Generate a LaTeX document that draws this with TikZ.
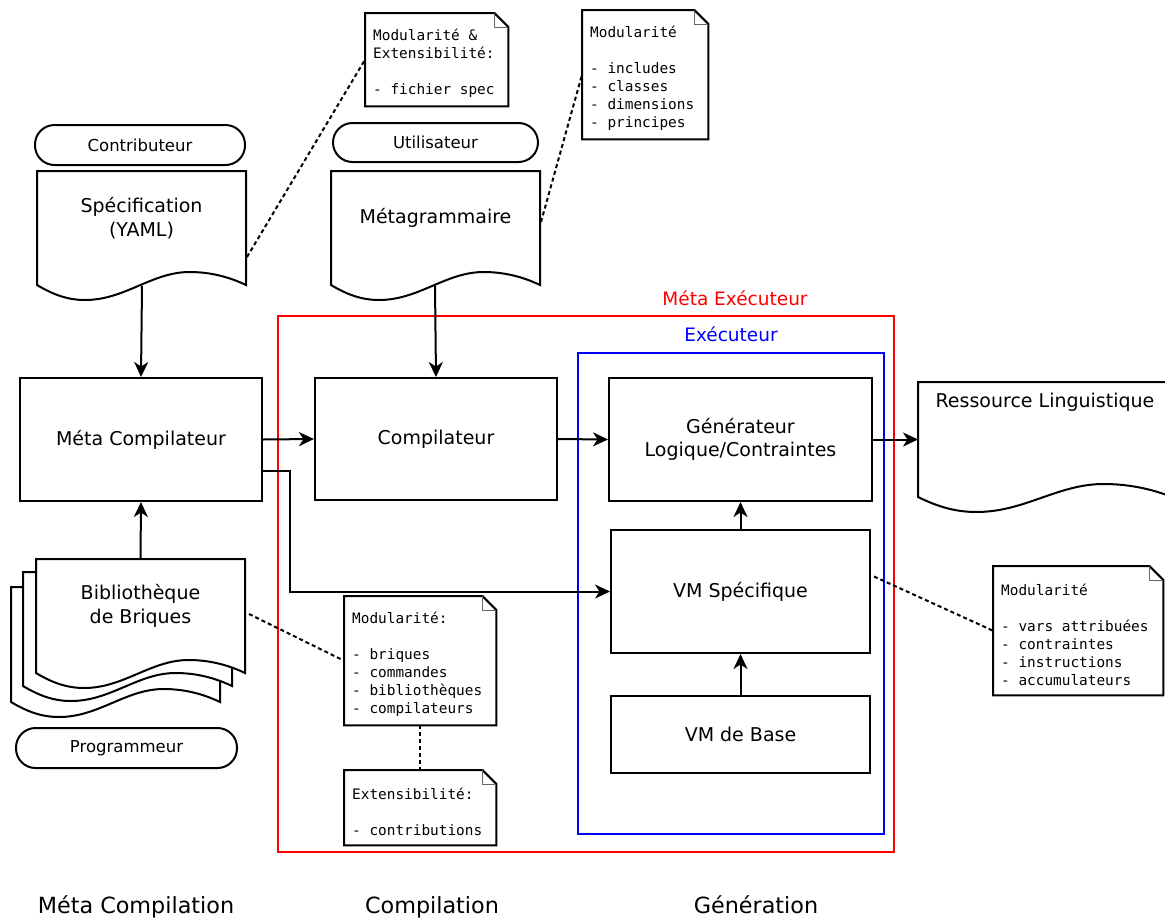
\documentclass[tikz,border=0pt]{standalone}
\usepackage{fontspec}
\setmainfont{DejaVu Sans}
\newfontfamily\monof{DejaVu Sans Mono}
\usetikzlibrary{arrows.meta,calc}
\newcommand\docpath[4]{% x1 ytop x2 yb
  \draw[lw, fill=white] (#1,#2) -- (#1,#4)
    .. controls ({#1+0.08*(#3-#1)},{#4+10}) and ({#1+0.15*(#3-#1)},{#4+15}) .. ({#1+0.23*(#3-#1)},{#4+15})
    .. controls ({#1+0.42*(#3-#1)},{#4+15}) and ({#1+0.55*(#3-#1)},{#4-13}) .. ({#1+0.73*(#3-#1)},{#4-13})
    .. controls ({#1+0.84*(#3-#1)},{#4-13}) and ({#1+0.93*(#3-#1)},{#4-7}) .. (#3,#4)
    -- (#3,#2) -- cycle;}
\newcommand\notebox[6]{% name x1 y1 x2 y2 text
  \node[notebg, minimum width={#4-#2}, minimum height={#5-#3}, anchor=north west] (#1) at (#2,#3) {};
  \draw[lw, fill=white] (#1.north west) -- ($(#1.north east)+(-14,0)$) -- ($(#1.north east)+(0,14)$)
    -- (#1.south east) -- (#1.south west) -- cycle;
  \draw[line width=0.7pt, black!60] ($(#1.north east)+(-14,0)$) -- ($(#1.north east)+(-14,14)$) -- ($(#1.north east)+(0,14)$);
  \node[notetext, anchor=west] (#1t) at ($(#1.west)+(8,4)$) {#6};}
\begin{document}
\begin{tikzpicture}[x=1pt,y=-1pt,
  lw/.style={line width=2pt},
  box/.style={draw, lw, fill=white, inner sep=0pt, font=\fontsize{19}{23}\selectfont, align=center},
  doctext/.style={inner sep=0pt, font=\fontsize{19}{24}\selectfont, align=center},
  pill/.style={draw, lw, fill=white, rounded corners=19.5pt, inner sep=0pt, font=\fontsize{16.5}{20}\selectfont},
  notebg/.style={inner sep=0pt},
  notetext/.style={inner sep=0pt, font=\monof\fontsize{14.4}{18}\selectfont, align=left},
  arr/.style={lw, -{Stealth[length=15pt,width=14pt,inset=4.5pt]}},
  dot/.style={lw, dash pattern=on 4pt off 3pt},
  phase/.style={inner sep=0pt, anchor=base, font=\fontsize{22.3}{26}\selectfont},
  frame/.style={line width=2pt, inner sep=0pt},
]
\useasboundingbox (0,0) rectangle (1165,919);
\begin{scope}
\clip (0,0) rectangle (1165,919);

% frames
\node[frame, draw=red, minimum width=616, minimum height=536] (metaexec) at (586,584) {};
\node[inner sep=0pt, text=red, font=\fontsize{18.5}{22}\selectfont] (metaexecl) at (735,298) {Méta Exécuteur};
\node[frame, draw=blue, minimum width=306, minimum height=481] (exec) at (731,593.5) {};
\node[inner sep=0pt, text=blue, font=\fontsize{18.5}{22}\selectfont] (execl) at (731,334) {Exécuteur};

% pills
\node[pill, minimum width=210, minimum height=40] (contrib) at (140,145) {Contributeur};
\node[pill, minimum width=205, minimum height=39] (util) at (435.5,142.5) {Utilisateur};
\node[pill, minimum width=221, minimum height=40] (prog) at (126.5,748) {Programmeur};

% documents
\docpath{37}{171}{246}{285}
\node[doctext] (spec) at (141.5,218) {Spécification\\(YAML)};
\coordinate (specb) at (142,286);
\coordinate (specr) at (247,257);
\docpath{331}{171}{540}{285}
\node[doctext] (meta) at (435.5,218) {Métagrammaire};
\coordinate (metab) at (435,286);
\coordinate (metar) at (541,222);
\docpath{918}{382}{1172}{497}
\node[doctext] (res) at (1045,402) {Ressource Linguistique};
\coordinate (resw) at (918,439.5);
\docpath{11}{587}{220}{702}
\docpath{23}{572}{232}{686}
\docpath{36}{559}{245}{673}
\node[doctext] (bib) at (140.5,606) {Bibliothèque\\de Briques};
\coordinate (bibt) at (140.5,559);
\coordinate (bibr) at (249,614);

% boxes
\node[box, minimum width=242, minimum height=123] (mc) at (141,439.5) {Méta Compilateur};
\node[box, minimum width=242, minimum height=122] (comp) at (436,439) {Compilateur};
\node[box, minimum width=263, minimum height=123] (gen) at (740.5,439.5) {Générateur\\Logique/Contraintes};
\node[box, minimum width=259, minimum height=123] (vms) at (740.5,591.5) {VM Spécifique};
\node[box, minimum width=259, minimum height=77] (vmb) at (740.5,734.5) {VM de Base};

% notes
\notebox{n1}{365}{13}{508}{106}{Modularité \&\\Extensibilité:\\[18pt]- fichier spec}
\notebox{n2}{582}{10}{708}{139}{Modularité\\[18pt]- includes\\- classes\\- dimensions\\- principes}
\notebox{n3}{344}{596}{496}{725}{Modularité:\\[18pt]- briques\\- commandes\\- bibliothèques\\- compilateurs}
\notebox{n4}{344}{770}{496}{845}{Extensibilité:\\[18pt]- contributions}
\notebox{n5}{993}{566}{1163}{695}{Modularité\\[18pt]- vars attribuées\\- contraintes\\- instructions\\- accumulateurs}

% dotted links
\draw[dot] (specr) -- (n1.west);
\draw[dot] (metar) -- (n2.west);
\draw[dot] (bibr) -- (n3.west);
\draw[dot] (n3.south) -- (n4.north);
\draw[dot] ($(vms.east)+(3,-15)$) -- (n5.west);

% arrows
\draw[arr] (specb) -- (mc.north);
\draw[arr] (metab) -- (comp.north);
\draw[arr] (mc.east) -- (comp.west);
\draw[arr] (comp.east) -- (gen.west);
\draw[arr] (gen.east) -- (resw);
\draw[arr] ($(mc.east)+(0,31)$) -- (290,470.5) -- (290,591.5) -- (vms.west);
\draw[arr] (vms.north) -- (gen.south);
\draw[arr] (vmb.north) -- (vms.south);
\draw[arr] (bibt) -- (mc.south);

% phases
\node[phase] (p1) at (136,913.5) {Méta Compilation};
\node[phase] (p2) at (432,913.5) {Compilation};
\node[phase] (p3) at (756,913.5) {Génération};
\end{scope}
\end{tikzpicture}
\end{document}
